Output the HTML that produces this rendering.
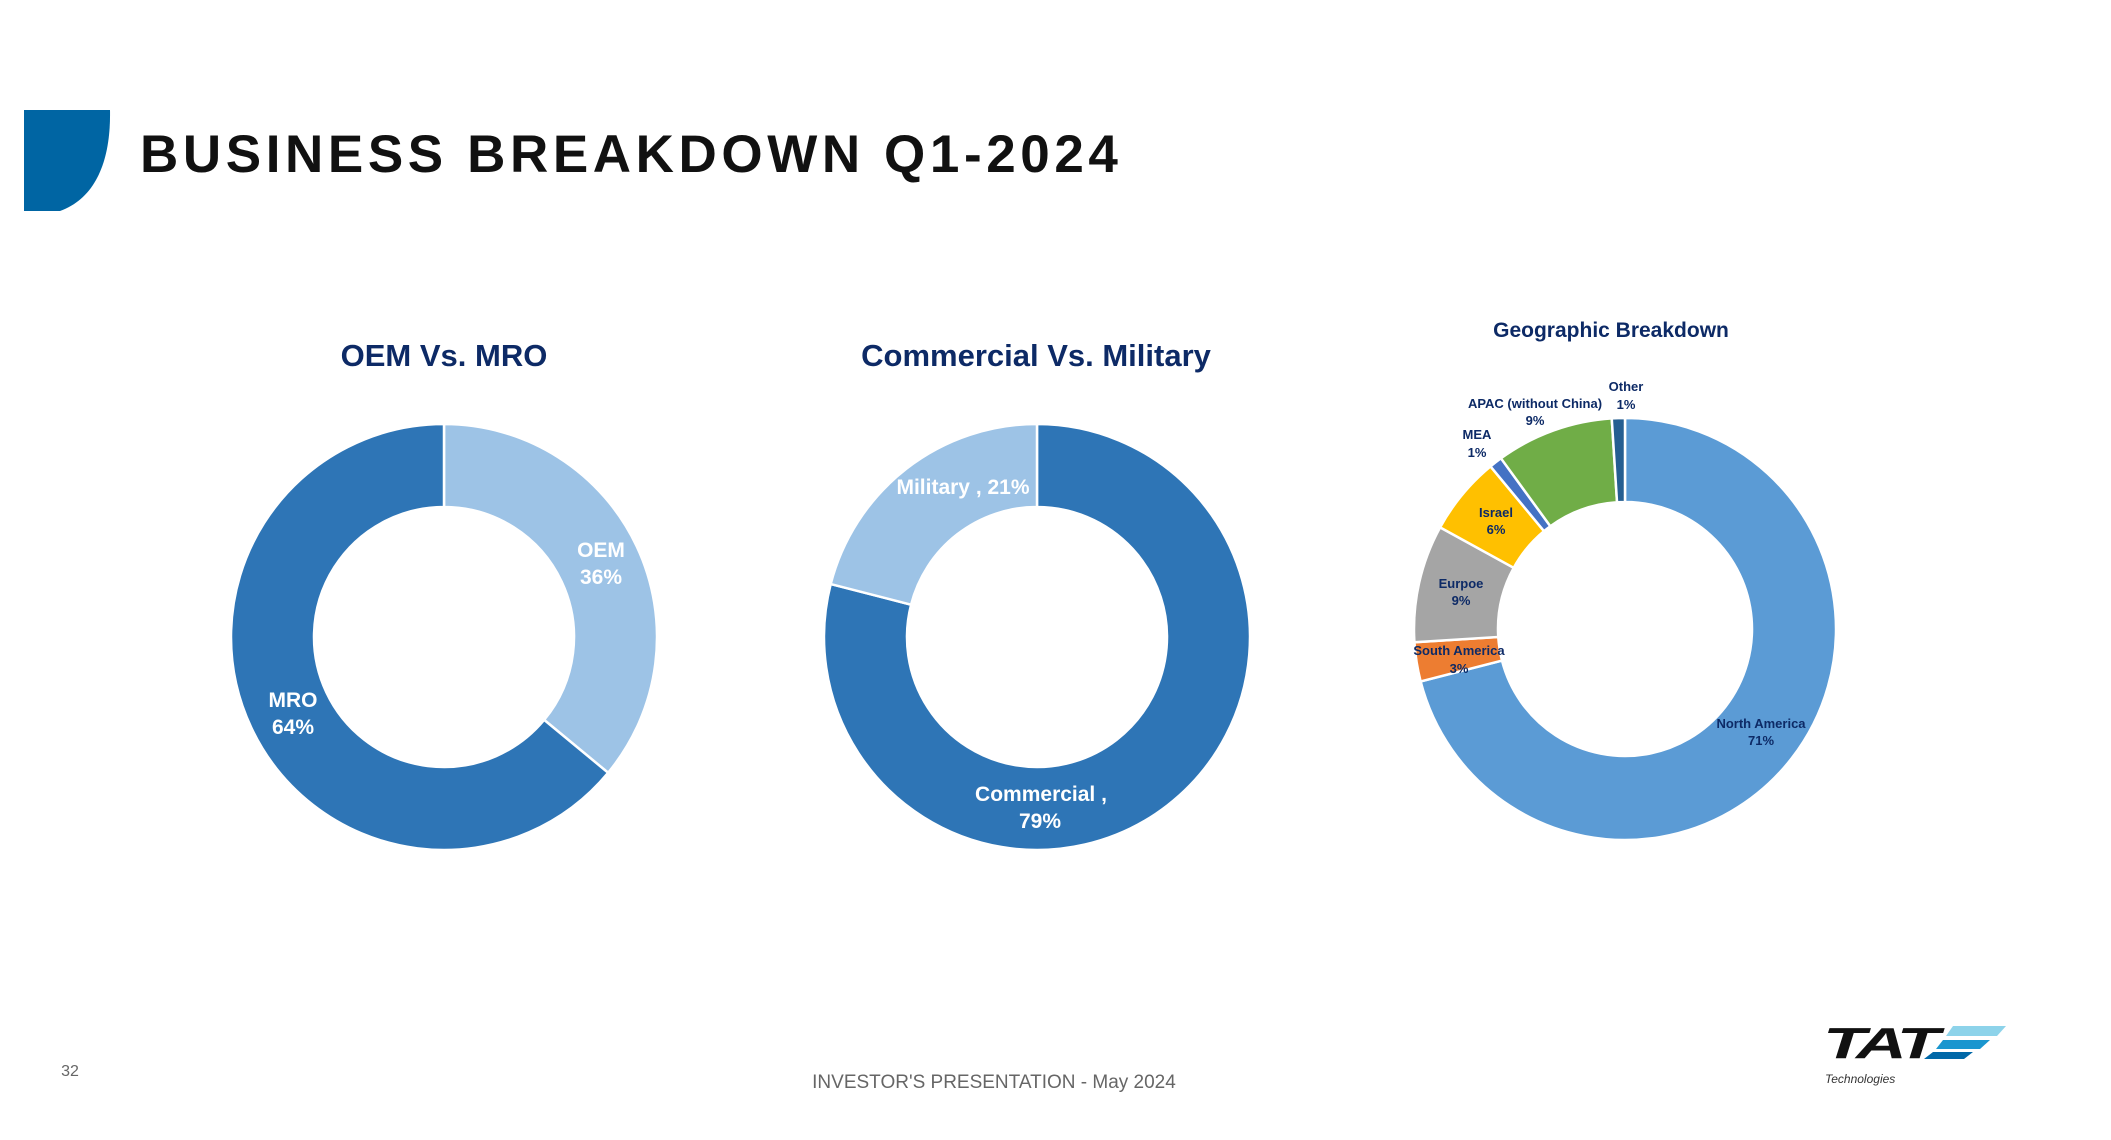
<!DOCTYPE html>
<html><head><meta charset="utf-8"><style>
html,body{margin:0;padding:0;background:#fff;}
body{width:2111px;height:1140px;overflow:hidden;position:relative;font-family:"Liberation Sans",sans-serif;}
svg{position:absolute;left:0;top:0;}
</style></head><body>
<svg width="2111" height="1140" viewBox="0 0 2111 1140">
<path d="M24,110 L110,110 C111,160 96,198 60,211 L24,211 Z" fill="#0065a3"/>
<text x="140" y="172" font-size="53" font-weight="bold" letter-spacing="4.6" fill="#111" font-family="Liberation Sans, sans-serif">BUSINESS BREAKDOWN Q1-2024</text>

<text x="444" y="366" text-anchor="middle" font-size="31" font-weight="bold" fill="#0d2a66">OEM Vs. MRO</text>
<text x="1036" y="366" text-anchor="middle" font-size="31" font-weight="bold" fill="#0d2a66">Commercial Vs. Military</text>
<text x="1611" y="337" text-anchor="middle" font-size="21" font-weight="bold" fill="#0d2a66">Geographic Breakdown</text>

<g id="c1"></g>
<g id="c2"></g>
<g id="c3"></g>

<g font-weight="bold" font-size="21" fill="#fff" text-anchor="middle">
<text x="601" y="557">OEM</text>
<text x="601" y="584">36%</text>
<text x="293" y="707">MRO</text>
<text x="293" y="734">64%</text>
<text x="963" y="494">Military , 21%</text>
<text x="1041" y="801">Commercial ,</text>
<text x="1040" y="828">79%</text>
</g>
<g font-weight="bold" font-size="13" fill="#0d2a66" text-anchor="middle">
<text x="1626" y="391">Other</text><text x="1626" y="409">1%</text>
<text x="1535" y="408">APAC (without China)</text><text x="1535" y="425">9%</text>
<text x="1477" y="439">MEA</text><text x="1477" y="457">1%</text>
<text x="1496" y="517">Israel</text><text x="1496" y="534">6%</text>
<text x="1461" y="588">Eurpoe</text><text x="1461" y="605">9%</text>
<text x="1459" y="655">South America</text><text x="1459" y="673">3%</text>
<text x="1761" y="728">North America</text><text x="1761" y="745">71%</text>
</g>

<text x="70" y="1076" text-anchor="middle" font-size="16" fill="#666">32</text>
<text x="994" y="1088" text-anchor="middle" font-size="19" fill="#666">INVESTOR'S PRESENTATION - May 2024</text>

<g>
<text x="1823" y="1058" font-size="44" font-weight="bold" font-style="italic" fill="#111" letter-spacing="-3" textLength="112" lengthAdjust="spacingAndGlyphs">TAT</text>
<polygon points="1953,1026 2006,1026 1997,1036 1946,1036" fill="#8dd3ea"/>
<polygon points="1943,1040 1990,1040 1980,1049 1936,1049" fill="#1a96cf"/>
<polygon points="1933,1052 1973,1052 1964,1059 1924,1059" fill="#0068a8"/>
<text x="1825" y="1083" font-size="12" font-style="italic" fill="#333">Technologies</text>
</g>
</svg>
<script>
const oemCategories = ["OEM", "MRO"];
const oemValues = [36, 64];
const milCategories = ["Commercial", "Military"];
const milValues = [79, 21];
const geoCategories = ["North America", "South America", "Europe", "Israel", "MEA", "APAC (without China)", "Other"];
const geoValues = [71, 3, 9, 6, 1, 9, 1];

const NS = "http://www.w3.org/2000/svg";
function arc(cx, cy, R, r, a0, a1) {
  const p = (rad, a) => [cx + rad * Math.sin(a), cy - rad * Math.cos(a)];
  const large = (a1 - a0) > Math.PI ? 1 : 0;
  const [x0, y0] = p(R, a0), [x1, y1] = p(R, a1), [x2, y2] = p(r, a1), [x3, y3] = p(r, a0);
  return `M${x0},${y0} A${R},${R} 0 ${large} 1 ${x1},${y1} L${x2},${y2} A${r},${r} 0 ${large} 0 ${x3},${y3} Z`;
}
function donut(id, cats, vals, colors, cx, cy, R, r) {
  const g = document.getElementById(id);
  const total = vals.reduce((a, b) => a + b, 0);
  let a = 0;
  vals.forEach((v, i) => {
    const a1 = a + v / total * 2 * Math.PI;
    const path = document.createElementNS(NS, "path");
    path.setAttribute("d", arc(cx, cy, R, r, a, a1));
    path.setAttribute("fill", colors[i]);
    path.setAttribute("stroke", "#fff");
    path.setAttribute("stroke-width", "2.5");
    
    
    g.appendChild(path);
    a = a1;
  });
}
donut("c1", oemCategories, oemValues, ["#9dc3e6", "#2e75b6"], 444, 637, 213, 130);
donut("c2", milCategories, milValues, ["#2e75b6", "#9dc3e6"], 1037, 637, 213, 130);
donut("c3", geoCategories, geoValues, ["#5b9bd5", "#ed7d31", "#a5a5a5", "#ffc000", "#4472c4", "#70ad47", "#255e91"], 1625, 629, 211, 127);
</script>
</body></html>
